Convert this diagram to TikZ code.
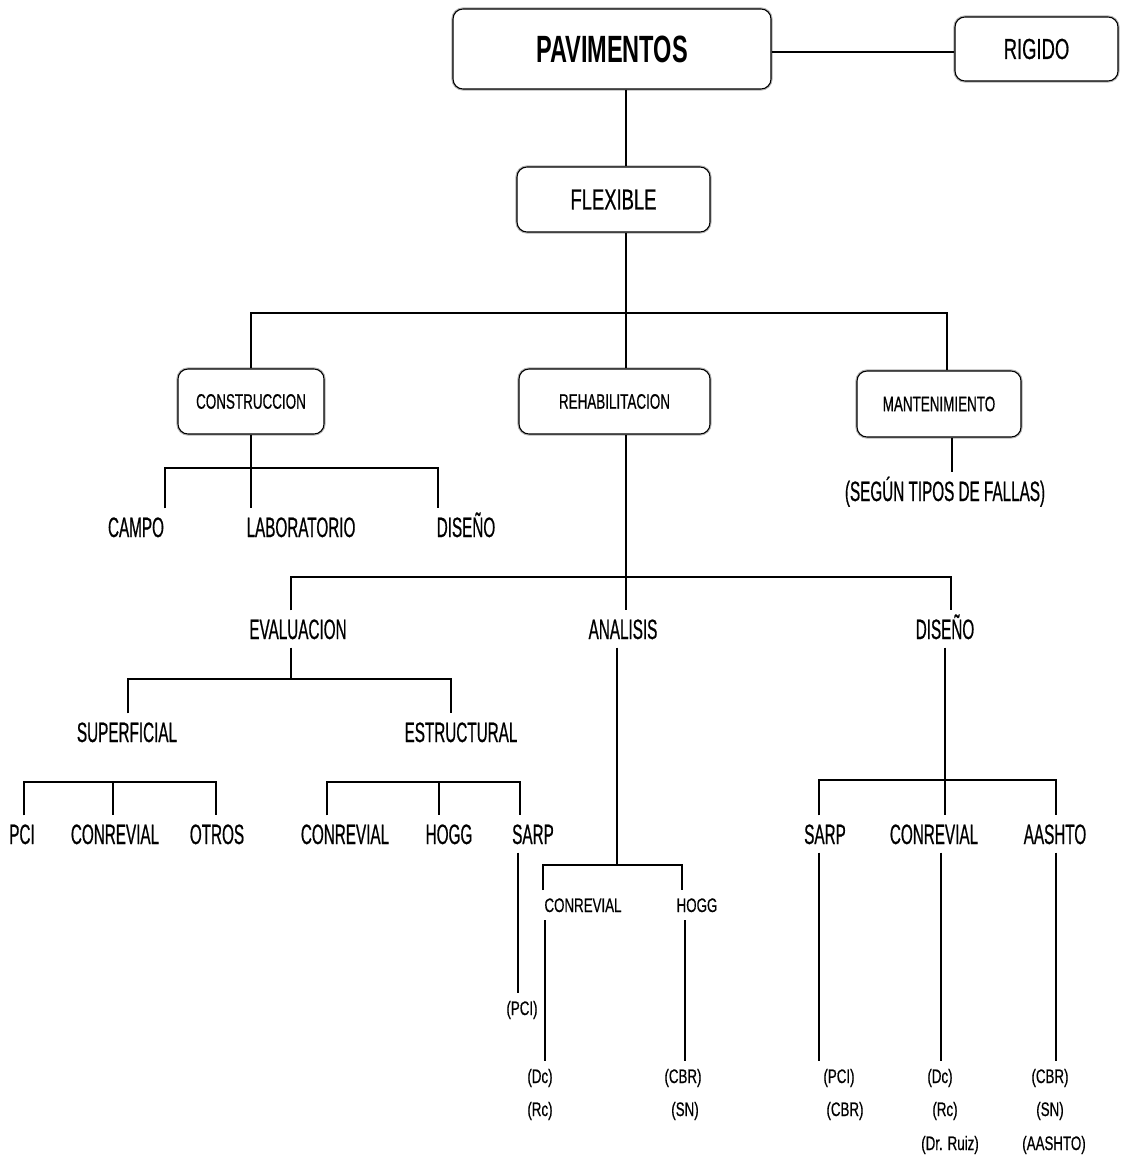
\documentclass[tikz,border=0pt]{standalone}
\usepackage{fontspec}
\newfontfamily\fntBig[FakeStretch=0.62]{Liberation Sans}
\newfontfamily\fntMid[FakeStretch=0.635,FakeBold=0.5]{Liberation Sans}
\newfontfamily\fntBox[FakeStretch=0.64,FakeBold=0.5]{Liberation Sans}
\newfontfamily\fntLvl[FakeStretch=0.545,FakeBold=0.6]{Liberation Sans}
\newfontfamily\fntSm[FakeStretch=0.68,FakeBold=0.5]{Liberation Sans}
\def\u{0.75pt}
\tikzset{
  box/.style={draw, rounded corners=7.5pt, line width=0.8pt, fill=white,
    preaction={draw=black!30, line width=2.4pt}, inner sep=0pt},
  lvl/.style={font=\fntLvl\fontsize{21}{21}\selectfont, inner sep=0pt, outer sep=6.5pt,
    text height=15pt, text depth=0pt},
  sm/.style={font=\fntSm\fontsize{14.7}{15}\selectfont, inner sep=0pt, outer sep=6pt,
    text height=10.5pt, text depth=0pt},
  ln/.style={line width=1.1pt},
  bus/.style={line width=1.7pt},
}
\begin{document}
\begin{tikzpicture}[x=0.75pt,y=-0.75pt]
\useasboundingbox (0,0) rectangle (1121,1156);
% boxes
\node[box, minimum width=318*\u, minimum height=80*\u, font=\fntBig\bfseries\fontsize{28.5}{29}\selectfont] (pav) at (612,49) {PAVIMENTOS};
\node[box, minimum width=163*\u, minimum height=64*\u, font=\fntMid\fontsize{21.75}{22}\selectfont] (rig) at (1036.5,49) {RIGIDO};
\node[box, minimum width=193*\u, minimum height=65*\u, font=\fntMid\fontsize{21.75}{22}\selectfont] (flex) at (613.5,199.5) {FLEXIBLE};
\node[box, minimum width=146*\u, minimum height=65*\u, font=\fntBox\fontsize{15.75}{16}\selectfont] (cons) at (251,401.5) {CONSTRUCCION};
\node[box, minimum width=191*\u, minimum height=65*\u, font=\fntBox\fontsize{15.75}{16}\selectfont] (rehab) at (614.5,401.5) {REHABILITACION};
\node[box, minimum width=164*\u, minimum height=66*\u, font=\fntBox\fontsize{15.75}{16}\selectfont] (mant) at (939,404) {MANTENIMIENTO};
% level labels
\node[lvl] (campo) at (136,527) {CAMPO};
\node[lvl] (lab) at (301,527) {LABORATORIO};
\node[lvl] (dis1) at (466,527) {DISEÑO};
\node[lvl] (seg) at (945,491) {(SEGÚN TIPOS DE FALLAS)};
\node[lvl] (eval) at (298,629) {EVALUACION};
\node[lvl] (anal) at (623,629) {ANALISIS};
\node[lvl] (dis2) at (945,629) {DISEÑO};
\node[lvl] (sup) at (127,732) {SUPERFICIAL};
\node[lvl] (est) at (461,732) {ESTRUCTURAL};
\node[lvl] (pci1) at (22,834) {PCI};
\node[lvl] (crA) at (115,834) {CONREVIAL};
\node[lvl] (otr) at (217,834) {OTROS};
\node[lvl] (crB) at (345,834) {CONREVIAL};
\node[lvl] (hgA) at (449,834) {HOGG};
\node[lvl] (spA) at (533,834) {SARP};
\node[lvl] (spB) at (825,834) {SARP};
\node[lvl] (crC) at (934,834) {CONREVIAL};
\node[lvl] (aas) at (1055,834) {AASHTO};
% small labels
\node[sm] (crD) at (583,905) {CONREVIAL};
\node[sm] (hgB) at (697,905) {HOGG};
\node[sm] (p1) at (522,1008) {(PCI)};
\node[sm] (dc1) at (540,1076) {(Dc)};
\node[sm] (rc1) at (540,1109) {(Rc)};
\node[sm] (cbr1) at (683,1076) {(CBR)};
\node[sm] (sn1) at (685,1109) {(SN)};
\node[sm] (p2) at (839,1076) {(PCI)};
\node[sm] (cbr2) at (845,1109) {(CBR)};
\node[sm] (dc2) at (940,1076) {(Dc)};
\node[sm] (rc2) at (945,1109) {(Rc)};
\node[sm] (dr) at (950,1143) {(Dr. Ruiz)};
\node[sm] (cbr3) at (1050,1076) {(CBR)};
\node[sm] (sn2) at (1050,1109) {(SN)};
\node[sm] (aa2) at (1054,1143) {(AASHTO)};
% coordinates
\coordinate (xa) at (626,0);
\coordinate (xm) at (952,0);
\coordinate (yr) at (0,52);
\coordinate (b1L) at (251,313); \coordinate (b1R) at (947,313);
\coordinate (b2L) at (165,468); \coordinate (b2R) at (438,468);
\coordinate (b3L) at (291,577); \coordinate (b3R) at (951,577);
\coordinate (b4L) at (128,679); \coordinate (b4M) at (291,679); \coordinate (b4R) at (451,679);
\coordinate (b5L) at (543,865); \coordinate (b5M) at (617,865); \coordinate (b5R) at (682,865);
\coordinate (b6L) at (819,780); \coordinate (b6R) at (1056,780);
\coordinate (b7L) at (24,782); \coordinate (b7M) at (113,782); \coordinate (b7R) at (216,782);
\coordinate (b8L) at (327,782); \coordinate (b8M) at (439,782); \coordinate (b8R) at (520,782);
\coordinate (xs1) at (518,0); \coordinate (xc1) at (545,0); \coordinate (xh1) at (685,0);
\coordinate (xs2) at (819,0); \coordinate (xc2) at (941,0); \coordinate (xa2) at (1056,0);
% connectors
\draw[ln] (pav.east |- yr) -- (rig.west |- yr);
\draw[ln] (pav.south -| xa) -- (flex.north -| xa);
\draw[ln] (flex.south -| xa) -- (rehab.north -| xa);
\draw[ln] (cons.north) -- (b1L) -- (b1R) -- (mant.north -| b1R);
\draw[bus] (b1L) -- (b1R);
\draw[ln] (cons.south) -- (lab.north -| cons.south);
\draw[ln] (campo.north -| b2L) -- (b2L) -- (b2R) -- (dis1.north -| b2R);
\draw[bus] (b2L) -- (b2R);
\draw[ln] (mant.south -| xm) -- (seg.north -| xm);
\draw[ln] (rehab.south -| xa) -- (anal.north -| xa);
\draw[ln] (eval.north -| b3L) -- (b3L) -- (b3R) -- (dis2.north -| b3R);
\draw[bus] (b3L) -- (b3R);
\draw[ln] (eval.south -| b4M) -- (b4M);
\draw[ln] (sup.north -| b4L) -- (b4L) -- (b4R) -- (est.north -| b4R);
\draw[bus] (b4L) -- (b4R);
\draw[ln] (anal.south -| b5M) -- (b5M);
\draw[ln] (crD.north -| b5L) -- (b5L) -- (b5R) -- (hgB.north -| b5R);
\draw[bus] (b5L) -- (b5R);
\draw[ln] (dis2.south) -- (dis2.south |- crC.north);
\draw[ln] (spB.north -| b6L) -- (b6L) -- (b6R) -- (aas.north -| b6R);
\draw[bus] (b6L) -- (b6R);
\draw[ln] (pci1.north -| b7L) -- (b7L) -- (b7R) -- (otr.north -| b7R);
\draw[ln] (b7M) -- (crA.north -| b7M);
\draw[bus] (b7L) -- (b7R);
\draw[ln] (crB.north -| b8L) -- (b8L) -- (b8R) -- (spA.north -| b8R);
\draw[ln] (b8M) -- (hgA.north -| b8M);
\draw[bus] (b8L) -- (b8R);
\draw[ln] (spA.south -| xs1) -- (p1.north -| xs1);
\draw[ln] (crD.south -| xc1) -- (dc1.north -| xc1);
\draw[ln] (hgB.south -| xh1) -- (cbr1.north -| xh1);
\draw[ln] (spB.south -| xs2) -- (p2.north -| xs2);
\draw[ln] (crC.south -| xc2) -- (dc2.north -| xc2);
\draw[ln] (aas.south -| xa2) -- (cbr3.north -| xa2);
\end{tikzpicture}
\end{document}
